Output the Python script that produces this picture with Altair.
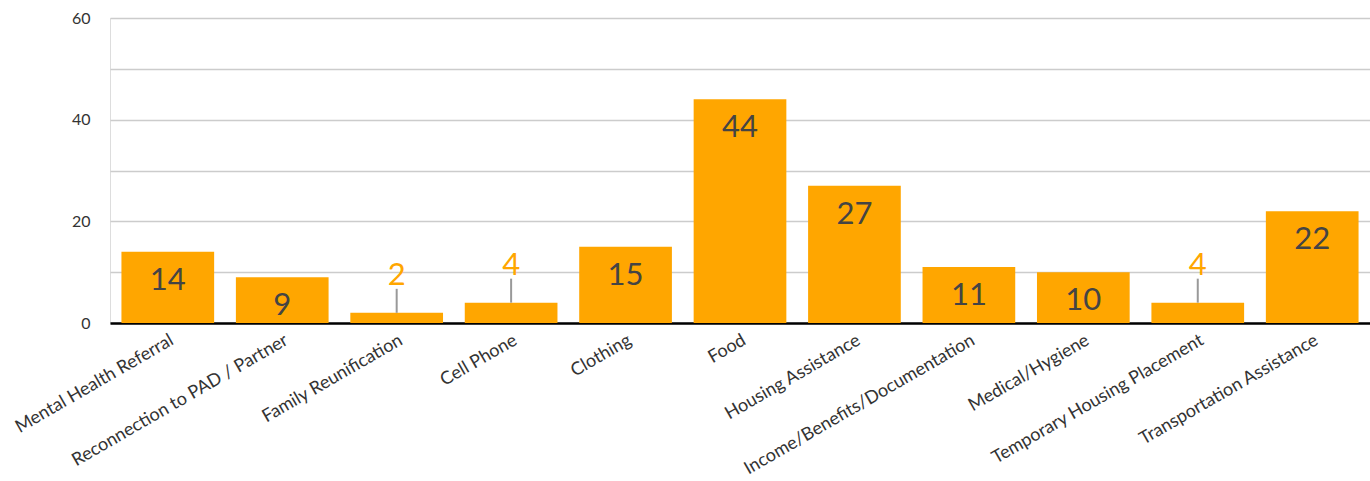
import altair as alt
import pandas as pd

categories = [
    "Mental Health Referral",
    "Reconnection to PAD / Partner",
    "Family Reunification",
    "Cell Phone",
    "Clothing",
    "Food",
    "Housing Assistance",
    "Income/Benefits/Documentation",
    "Medical/Hygiene",
    "Temporary Housing Placement",
    "Transportation Assistance",
]
values = [14, 9, 2, 4, 15, 44, 27, 11, 10, 4, 22]

df = pd.DataFrame({"category": categories, "value": values})
df["small"] = df["value"] < 5

FONT = "Lato"
ORANGE = "#FFA600"

x = alt.X(
    "category:N",
    sort=categories,
    scale=alt.Scale(paddingInner=0.19, paddingOuter=0.1),
    axis=alt.Axis(
        title=None,
        labelAngle=330,
        labelAlign="right",
        labelBaseline="top",
        labelFontSize=18,
        labelFont=FONT,
        labelColor="#333333",
        labelPadding=8,
        ticks=False,
        domainColor="#000000",
        domainWidth=2.5,
        labelLimit=400,
    ),
)
y = alt.Y(
    "value:Q",
    scale=alt.Scale(domain=[0, 60], nice=False),
    axis=alt.Axis(
        title=None,
        values=[0, 10, 20, 30, 40, 50, 60],
        labelExpr="datum.value % 20 == 0 ? datum.label : ''",
        labelFontSize=16,
        labelFont=FONT,
        labelColor="#333333",
        labelPadding=20,
        ticks=False,
        domain=False,
        gridColor="#cccccc",
        gridWidth=1.5,
    ),
)

base = alt.Chart(df)

bars = base.mark_bar(color=ORANGE).encode(x=x, y=y)

inside = base.transform_filter("!datum.small").mark_text(
    baseline="top", dy=14, fontSize=31, font=FONT, color="#444444"
).encode(x=x, y=y, text="value:Q")

leader = base.transform_filter("datum.small").mark_rule(
    color="#999999", strokeWidth=2, y2Offset=-24
).encode(x=x, y=y, y2="value:Q")

outside = base.transform_filter("datum.small").mark_text(
    baseline="bottom", dy=-21, fontSize=31, font=FONT, color=ORANGE
).encode(x=x, y=y, text="value:Q")

chart = (
    alt.layer(bars, inside, leader, outside)
    .properties(
        width=1260,
        height=305,
        autosize=alt.AutoSizeParams(type="none"),
        padding={"left": 110, "top": 18, "right": 0, "bottom": 158},
    )
    .configure_view(stroke=None)
    .configure(background="white")
)

chart.save("out.html", embed_options={"renderer": "svg", "actions": False})
